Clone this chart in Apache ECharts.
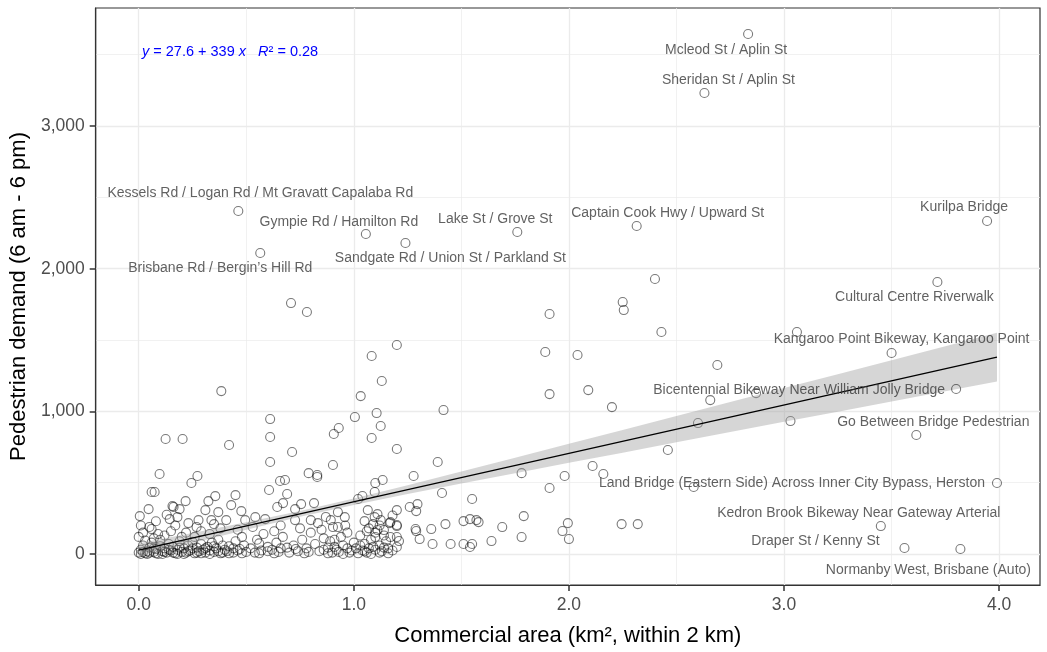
<!DOCTYPE html>
<html>
<head>
<meta charset="utf-8">
<script src="https://cdn.jsdelivr.net/npm/echarts@6/dist/echarts.min.js"></script>
<style>
  html, body { margin: 0; padding: 0; background: #fff; }
  #chart { width: 1047px; height: 652px; }
</style>
</head>
<body>
<div id="chart"></div>
<script>
// Count sites: [commercial area within 2 km (km²), pedestrian demand 6 am - 6 pm]
const otherSites = [
  [0.00,10],[0.01,30],[0.02,60],[0.00,120],[0.03,5],[0.04,20],[0.05,45],[0.06,80],[0.07,15],[0.08,35],
  [0.09,0],[0.10,55],[0.02,150],[0.05,190],[0.06,175],[0.005,266],[0.046,315],[0.08,230],[0.10,100],[0.03,95],
  [0.07,110],[0.09,140],[0.01,200],[0.06,435],[0.074,435],[0.097,561],
  [0.01,0],[0.02,15],[0.04,0],[0.05,10],[0.07,40],[0.08,5],
  [0.11,20],[0.12,40],[0.13,10],[0.14,70],[0.15,25],[0.16,50],[0.17,5],[0.18,30],[0.19,90],[0.20,15],
  [0.144,245],[0.162,330],[0.157,336],[0.19,315],[0.18,259],[0.125,806],[0.204,806],[0.12,130],[0.15,160],[0.20,120],
  [0.17,200],[0.13,275],
  [0.11,0],[0.12,15],[0.14,30],[0.16,10],[0.18,0],[0.19,45],
  [0.21,40],[0.22,10],[0.23,60],[0.24,25],[0.25,85],[0.26,5],[0.27,45],[0.28,20],[0.29,70],[0.30,30],
  [0.218,371],[0.273,547],[0.245,498],[0.278,238],[0.231,217],[0.269,189],[0.22,150],[0.26,120],[0.29,160],
  [0.21,0],[0.23,20],[0.25,40],[0.27,10],[0.29,5],
  [0.31,10],[0.32,50],[0.33,25],[0.34,80],[0.35,15],[0.36,40],[0.37,100],[0.38,5],[0.39,60],[0.40,30],
  [0.31,308],[0.324,371],[0.356,406],[0.338,238],[0.37,294],[0.384,1142],[0.33,140],[0.38,180],[0.35,210],
  [0.31,40],[0.33,0],[0.35,55],[0.37,20],[0.39,10],
  [0.41,20],[0.42,55],[0.44,10],[0.45,90],[0.47,35],[0.48,120],[0.50,15],[0.407,238],[0.45,413],[0.43,343],
  [0.477,301],[0.495,238],[0.42,764],[0.46,170],[0.49,60],
  [0.42,5],[0.44,40],[0.46,25],[0.48,5],
  [0.52,40],[0.54,10],[0.55,100],[0.57,25],[0.58,140],[0.60,50],[0.542,259],[0.588,245],[0.53,190],[0.56,75],
  [0.56,5],[0.60,20],
  [0.611,946],[0.611,820],[0.611,645],[0.606,449],[0.62,30],[0.64,80],[0.65,15],[0.67,120],[0.69,45],[0.644,330],
  [0.671,357],[0.657,512],[0.68,519],[0.69,421],[0.66,200],[0.63,160],[0.708,1759],
  [0.63,5],[0.66,40],
  [0.713,715],[0.727,315],[0.755,350],[0.727,238],[0.72,60],[0.74,20],[0.76,100],[0.78,40],[0.80,150],[0.79,567],
  [0.782,1696],[0.80,238],[0.75,180],[0.77,5],
  [0.70,10],[0.73,35],[0.79,15],
  [0.815,357],[0.833,217],[0.83,554],[0.83,540],[0.82,70],[0.84,20],[0.86,110],[0.88,45],[0.85,170],[0.87,260],
  [0.893,238],[0.89,90],[0.90,10],
  [0.86,30],[0.88,5],
  [0.903,624],[0.907,841],[0.93,883],[0.926,294],[0.958,259],[0.903,189],[0.926,189],[0.92,30],[0.94,120],[0.95,60],
  [0.97,150],[0.98,10],[0.96,200],[1.00,80],[0.91,100],
  [0.91,50],[0.93,15],[0.95,0],[0.97,40],[0.99,25],
  [1.005,960],[1.032,1107],[1.02,386],[1.04,407],[1.05,231],[1.065,308],[1.097,259],[1.083,1388],[1.083,813],[1.097,435],
  [1.10,498],[1.01,40],[1.03,130],[1.05,70],[1.06,10],[1.07,180],[1.08,100],[1.09,50],[1.10,150],[1.10,119],
  [1.04,25],[1.06,160],[1.09,210],
  [1.02,5],[1.03,60],[1.05,20],[1.07,40],[1.08,0],[1.10,30],
  [1.106,988],[1.125,897],[1.13,1213],[1.11,168],[1.14,168],[1.125,238],[1.134,519],[1.17,224],[1.20,203],[1.20,119],
  [1.17,119],[1.20,49],[1.167,217],[1.12,60],[1.13,20],[1.15,90],[1.11,280],[1.16,40],[1.14,130],[1.12,200],
  [1.20,308],[1.20,736],[1.20,1465],[1.18,270],
  [1.12,10],[1.14,45],[1.16,5],[1.18,25],
  [1.26,330],[1.296,350],[1.29,301],[1.278,547],[1.287,175],[1.306,105],[1.20,196],[1.21,91],[1.29,161],[1.36,175],
  [1.366,70],[1.39,645],[1.41,428],[1.417,1009],[1.426,210],[1.45,70],
  [1.51,231],[1.51,70],[1.54,245],[1.54,49],[1.55,70],[1.55,386],[1.57,238],[1.58,224],[1.64,91],[1.69,189],
  [1.78,119],[1.78,567],[1.79,266],[1.89,1416],[1.91,1682],[1.91,1121],[1.91,463],[1.97,161],[1.98,547],[1.995,217],
  [2.00,105],
  [2.04,1395],[2.09,1149],[2.20,1030],[2.11,617],[2.16,561],[2.245,210],[2.32,210],[2.25,1766],[2.255,1710],[2.40,1928],
  [2.43,1556],[2.46,729],[2.58,470],[2.60,918],[2.657,1079],[2.69,1325],[2.87,1128],
  [3.03,932],[3.06,1556]
];

// Named count sites
const siteNames = [
  'Mcleod St / Aplin St', 'Sheridan St / Aplin St', 'Kessels Rd / Logan Rd / Mt Gravatt Capalaba Rd',
  'Gympie Rd / Hamilton Rd', 'Sandgate Rd / Union St / Parkland St', 'Lake St / Grove St',
  'Brisbane Rd / Bergin\u2019s Hill Rd', 'Captain Cook Hwy / Upward St', 'Kurilpa Bridge',
  'Cultural Centre Riverwalk', 'Kangaroo Point Bikeway, Kangaroo Point',
  'Bicentennial Bikeway Near William Jolly Bridge', 'Go Between Bridge Pedestrian',
  'Land Bridge (Eastern Side) Across Inner City Bypass, Herston',
  'Kedron Brook Bikeway Near Gateway Arterial', 'Draper St / Kenny St', 'Normanby West, Brisbane (Auto)'
];
const siteArea   = [2.833, 2.63, 0.463, 1.056, 1.24, 1.76, 0.565, 2.315, 3.944, 3.713, 3.50, 3.80, 3.615, 3.99, 3.45, 3.56, 3.82];
const siteDemand = [3645, 3231, 2404, 2243, 2180, 2257, 2110, 2299, 2334, 1907, 1409, 1157, 834, 498, 196, 42, 35];

// Label placement relative to each named site (px)
const labelOffsets = [
  [-22, 16], [24, -13], [22, -18], [-27, -12], [45, 15], [-22, -13], [-40, 15], [31, -13], [-23, -14],
  [-23, 15], [10, -14], [-157, 1], [17, -13], [-205, 0], [-22, -13], [-89, -7], [-32, 21]
];

// Fitted linear model
const fitIntercept = 27.6;
const fitSlope = 339;
const fitR2 = 0.28;
const fitRange = [0, 3.99];

// 95% confidence band of the fit
const bandX     = [0, 0.25, 0.5, 0.75, 1.0, 1.25, 1.5, 1.75, 2.0, 2.25, 2.5, 2.75, 3.0, 3.25, 3.5, 3.75, 3.99];
const bandLower = [-19, 77, 171, 262, 344, 420, 494, 567, 639, 710, 783, 855, 927, 998, 1069, 1141, 1209];
const bandUpper = [75, 147, 223, 302, 390, 482, 578, 675, 773, 870, 967, 1065, 1163, 1260, 1359, 1457, 1551];

// Axis ticks
const xTicks = [0, 1, 2, 3, 4];
const yTicks = [0, 1000, 2000, 3000];

const FONT = '"Liberation Sans", Arial, sans-serif';
const pointStyle = { color: 'rgba(0,0,0,0)', borderColor: 'rgba(0,0,0,0.66)', borderWidth: 1.1 };
const gridColor = '#ebebeb';
const frameColor = '#333333';

const chart = echarts.init(document.getElementById('chart'), null, { renderer: 'canvas' });

chart.setOption({
  animation: false,
  textStyle: { fontFamily: FONT },
  title: {
    text: '{it|y} = ' + fitIntercept + ' + ' + fitSlope + ' {it|x}   {it|R}\u00b2 = ' + fitR2.toFixed(2),
    left: 137,
    top: 39,
    textStyle: {
      fontFamily: FONT, fontSize: 14.5, fontWeight: 'normal', color: '#0000ff',
      rich: { it: { fontFamily: FONT, fontSize: 14.5, fontStyle: 'italic', color: '#0000ff' } }
    }
  },
  grid: {
    left: 93, right: 7, top: 8, bottom: 67,
    show: true, borderColor: frameColor, borderWidth: 1.2, backgroundColor: 'transparent'
  },
  xAxis: {
    type: 'value',
    min: -0.2, max: 4.19,
    splitNumber: 5,
    name: 'Commercial area (km\u00b2, within 2 km)',
    nameLocation: 'middle',
    nameGap: 40,
    nameTextStyle: { fontFamily: FONT, fontSize: 22, color: '#000' },
    axisLine: { show: true, onZero: false, lineStyle: { color: frameColor, width: 1.2 } },
    axisTick: { show: true, inside: false, length: 6, customValues: xTicks, lineStyle: { color: frameColor, width: 1.5 } },
    axisLabel: {
      customValues: xTicks, margin: 11, fontSize: 17.5, color: '#4d4d4d', fontFamily: FONT,
      formatter: v => Number(v).toFixed(1)
    },
    splitLine: { show: true, lineStyle: { color: gridColor, width: 1.3 } },
    minorTick: { show: false, splitNumber: 2 },
    minorSplitLine: { show: true, lineStyle: { color: gridColor, width: 0.7 } }
  },
  yAxis: {
    type: 'value',
    min: -217, max: 3827,
    splitNumber: 5,
    name: 'Pedestrian demand (6 am - 6 pm)',
    nameLocation: 'middle',
    nameGap: 57,
    nameTextStyle: { fontFamily: FONT, fontSize: 22, color: '#000' },
    axisLine: { show: true, onZero: false, lineStyle: { color: frameColor, width: 1.2 } },
    axisTick: { show: true, inside: false, length: 6, customValues: yTicks, lineStyle: { color: frameColor, width: 1.5 } },
    axisLabel: {
      customValues: yTicks, margin: 11, fontSize: 17.5, color: '#4d4d4d', fontFamily: FONT,
      formatter: v => Number(v).toLocaleString('en-US')
    },
    splitLine: { show: true, lineStyle: { color: gridColor, width: 1.3 } },
    minorTick: { show: false, splitNumber: 2 },
    minorSplitLine: { show: true, lineStyle: { color: gridColor, width: 0.7 } }
  },
  series: [
    {
      name: 'sites',
      type: 'scatter',
      z: 2,
      silent: true,
      symbol: 'circle',
      symbolSize: 9,
      itemStyle: pointStyle,
      data: otherSites
    },
    {
      name: 'confidence band',
      type: 'custom',
      z: 3,
      silent: true,
      data: bandX.map((x, i) => [x, bandLower[i], bandUpper[i]]),
      encode: { x: 0, y: [1, 2] },
      renderItem: (params, api) => {
        if (params.dataIndex !== 0) return null;
        const pts = [];
        for (let i = 0; i < bandX.length; i++) pts.push(api.coord([bandX[i], bandUpper[i]]));
        for (let i = bandX.length - 1; i >= 0; i--) pts.push(api.coord([bandX[i], bandLower[i]]));
        return {
          type: 'polygon',
          shape: { points: pts },
          style: { fill: 'rgba(153,153,153,0.4)', stroke: null }
        };
      }
    },
    {
      name: 'fit',
      type: 'line',
      z: 4,
      silent: true,
      symbol: 'none',
      lineStyle: { color: '#000', width: 1.3 },
      data: fitRange.map(x => [x, fitIntercept + fitSlope * x])
    },
    {
      name: 'named sites',
      type: 'scatter',
      z: 5,
      silent: true,
      symbol: 'circle',
      symbolSize: 9,
      itemStyle: pointStyle,
      label: {
        show: true,
        position: 'inside',
        fontFamily: FONT,
        fontSize: 14,
        color: '#3a3a3a',
        formatter: p => siteNames[p.dataIndex]
      },
      data: siteArea.map((x, i) => ({
        value: [x, siteDemand[i]],
        label: { offset: labelOffsets[i] }
      }))
    }
  ]
});
</script>
</body>
</html>
